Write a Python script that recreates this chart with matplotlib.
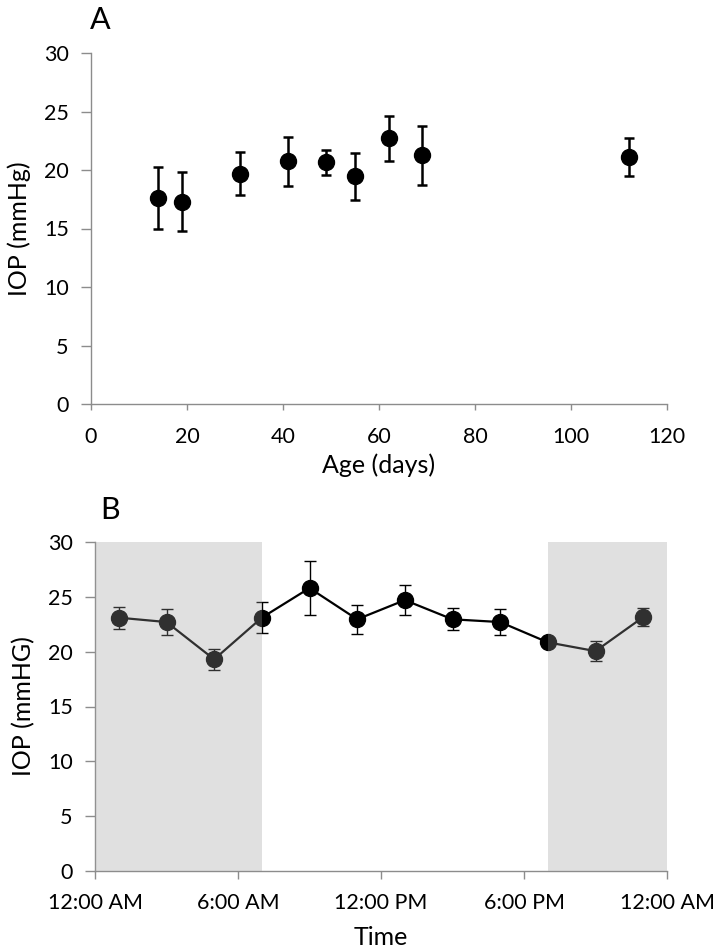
import matplotlib
matplotlib.use("Agg")
import matplotlib.pyplot as plt

plt.rcParams['font.family'] = ['Lato', 'DejaVu Sans']

# Panel A data
age_days = [14, 19, 31, 41, 49, 55, 62, 69, 112]
iop_a = [17.6, 17.3, 19.7, 20.75, 20.65, 19.45, 22.7, 21.25, 21.1]
err_a = [2.65, 2.5, 1.8, 2.1, 1.1, 2.0, 1.9, 2.5, 1.6]

# Panel B data (hours after midnight)
time_hours = [1, 3, 5, 7, 9, 11, 13, 15, 17, 19, 21, 23]
iop_b = [23.1, 22.7, 19.3, 23.1, 25.8, 22.95, 24.7, 22.95, 22.7, 20.85, 20.05, 23.15]
err_b = [1.0, 1.15, 0.95, 1.4, 2.45, 1.3, 1.35, 1.0, 1.15, 0.3, 0.9, 0.8]
dark_periods = [(0, 7), (19, 24)]
time_ticks = [0, 6, 12, 18, 24]
time_labels = ["12:00 AM", "6:00 AM", "12:00 PM", "6:00 PM", "12:00 AM"]

fig = plt.figure(figsize=(7.14, 9.52), dpi=100)
W, H = 714, 952

def axes_px(l, t, r, b):
    return fig.add_axes([l / W, 1 - b / H, (r - l) / W, (b - t) / H])

spine_col = '#8c8c8c'
fs = 15.5
lfs = 18

def style(ax):
    for s in ['top', 'right']:
        ax.spines[s].set_visible(False)
    for s in ['left', 'bottom']:
        ax.spines[s].set_color(spine_col)
        ax.spines[s].set_linewidth(1.0)
    ax.tick_params(axis='both', colors=spine_col, labelcolor='black',
                   labelsize=fs, width=1.0, direction='out')
    ax.tick_params(axis='y', length=7, pad=9)
    ax.set_yticks([0, 5, 10, 15, 20, 25, 30])
    ax.set_ylim(0, 30)

# Panel A
axA = axes_px(91, 53, 667, 404)
style(axA)
axA.errorbar(age_days, iop_a, yerr=err_a, fmt='o', color='black',
             markersize=11.5, elinewidth=1.8, capsize=3.5, capthick=1.8,
             clip_on=False)
axA.set_xlim(0, 120)
axA.set_xticks([0, 20, 40, 60, 80, 100, 120])
axA.set_xlabel("Age (days)", fontsize=lfs, labelpad=5)
axA.set_ylabel("IOP (mmHg)", fontsize=lfs, labelpad=9)
axA.tick_params(axis='x', pad=12, length=4.5)
fig.text(100 / W, 1 - 20 / H, "A", fontsize=22, ha='center', va='center')

# Panel B
axB = axes_px(95, 542, 667, 871)
style(axB)
axB.errorbar(time_hours, iop_b, yerr=err_b, fmt='-o', color='black',
             markersize=11.5, linewidth=1.6, elinewidth=1.0, capsize=4.0,
             capthick=1.0, zorder=3)
for start, end in dark_periods:
    axB.axvspan(start, end, color=(0.62, 0.62, 0.62), alpha=0.31,
                linewidth=0, zorder=4)
axB.set_xlim(0, 24)
axB.set_xticks(time_ticks)
axB.set_xticklabels(time_labels)
axB.set_xlabel("Time", fontsize=lfs, labelpad=9)
axB.set_ylabel("IOP (mmHG)", fontsize=lfs, labelpad=9)
axB.tick_params(axis='x', pad=10, length=6)
fig.text(110 / W, 1 - 510 / H, "B", fontsize=22, ha='center', va='center')

fig.savefig("out.png", dpi=100)
